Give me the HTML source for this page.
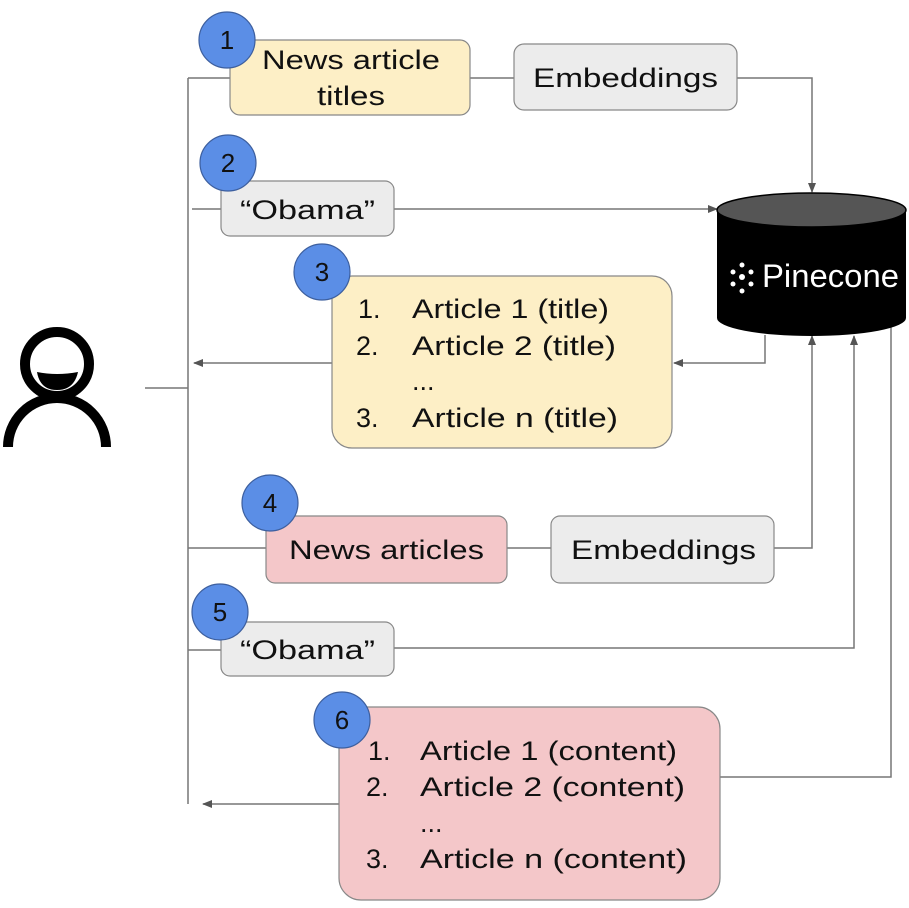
<!DOCTYPE html>
<html><head><meta charset="utf-8"><style>
html,body{margin:0;padding:0;background:#fff;}
svg{display:block;}
text{font-family:"Liberation Sans",sans-serif;fill:#111;}
</style></head><body>
<svg width="909" height="908" viewBox="0 0 909 908" xmlns="http://www.w3.org/2000/svg">
<defs>
<marker id="a" markerWidth="10" markerHeight="10" refX="9" refY="5" orient="auto" markerUnits="userSpaceOnUse">
<path d="M0,1 L10,5 L0,9 z" fill="#555"/></marker>
</defs>
<g stroke="#777" stroke-width="1.5" fill="none">
<line x1="188" y1="78" x2="188" y2="804"/>
<line x1="188" y1="78" x2="230" y2="78"/>
<line x1="145" y1="388" x2="188" y2="388"/>
<line x1="470" y1="78" x2="514" y2="78"/>
<polyline points="737,78 812,78 812,192" marker-end="url(#a)"/>
<line x1="192" y1="209" x2="221" y2="209"/>
<line x1="394" y1="209" x2="717" y2="209" marker-end="url(#a)"/>
<polyline points="765,335 765,363 674,363" marker-end="url(#a)"/>
<line x1="332" y1="363" x2="194" y2="363" marker-end="url(#a)"/>
<line x1="188" y1="548" x2="266" y2="548"/>
<line x1="507" y1="548" x2="551" y2="548"/>
<polyline points="774,548 812,548 812,336" marker-end="url(#a)"/>
<line x1="188" y1="650" x2="221" y2="650"/>
<polyline points="394,648 854,648 854,336" marker-end="url(#a)"/>
<polyline points="720,777 891,777 891,322"/>
<line x1="339" y1="804" x2="203" y2="804" marker-end="url(#a)"/>
</g>
<g stroke="#000" stroke-width="10" fill="none">
<circle cx="57" cy="364" r="32"/>
<path d="M8,447 A49,49 0 0 1 106,447"/>
</g>
<path d="M37,372 Q57,376 78,372 Q74,390 57,390 Q40,390 37,372 z" fill="#000"/>
<path d="M717,210 L717,318 A94.5,18 0 0 0 906,318 L906,210 z" fill="#000"/>
<ellipse cx="811.5" cy="210" rx="94.5" ry="17" fill="#555" stroke="#000" stroke-width="1.5"/>
<text x="762" y="287" font-size="32" textLength="137" lengthAdjust="spacingAndGlyphs" style="fill:#fff">Pinecone</text>
<g fill="#fff"><circle cx="742" cy="265" r="2.5"/><circle cx="733" cy="272" r="2.5"/><circle cx="751" cy="272" r="2.5"/><circle cx="733" cy="284" r="2.5"/><circle cx="751" cy="284" r="2.5"/><circle cx="742" cy="291" r="2.5"/><circle cx="742" cy="277" r="3"/></g>
<g stroke="#888" stroke-width="1.2">
<rect x="230" y="40" width="240" height="75" rx="10" fill="#fdefc6"/>
<rect x="514" y="44" width="223" height="66" rx="10" fill="#ececec"/>
<rect x="221" y="181" width="173" height="55" rx="9" fill="#ececec"/>
<rect x="332" y="276" width="340" height="172" rx="20" fill="#fdefc6"/>
<rect x="266" y="516" width="241" height="67" rx="9" fill="#f4c7c9"/>
<rect x="551" y="516" width="223" height="67" rx="9" fill="#ececec"/>
<rect x="221" y="622" width="173" height="54" rx="9" fill="#ececec"/>
<rect x="339" y="707" width="381" height="193" rx="22" fill="#f4c7c9"/>
</g>
<g font-size="27" lengthAdjust="spacingAndGlyphs">
<text x="262" y="69" textLength="178" lengthAdjust="spacingAndGlyphs">News article</text>
<text x="317" y="105" textLength="68" lengthAdjust="spacingAndGlyphs">titles</text>
<text x="533" y="87" textLength="185" lengthAdjust="spacingAndGlyphs">Embeddings</text>
<text x="240" y="219" textLength="135" lengthAdjust="spacingAndGlyphs">“Obama”</text>
<text x="358" y="318">1.</text><text x="412" y="318" textLength="197" lengthAdjust="spacingAndGlyphs">Article 1 (title)</text>
<text x="356" y="355">2.</text><text x="412" y="355" textLength="204" lengthAdjust="spacingAndGlyphs">Article 2 (title)</text>
<text x="412" y="390">...</text>
<text x="356" y="427">3.</text><text x="412" y="427" textLength="206" lengthAdjust="spacingAndGlyphs">Article n (title)</text>
<text x="289" y="559" textLength="195" lengthAdjust="spacingAndGlyphs">News articles</text>
<text x="571" y="559" textLength="185" lengthAdjust="spacingAndGlyphs">Embeddings</text>
<text x="240" y="659" textLength="135" lengthAdjust="spacingAndGlyphs">“Obama”</text>
<text x="368" y="760">1.</text><text x="420" y="760" textLength="257" lengthAdjust="spacingAndGlyphs">Article 1 (content)</text>
<text x="366" y="796">2.</text><text x="420" y="796" textLength="265" lengthAdjust="spacingAndGlyphs">Article 2 (content)</text>
<text x="420" y="832">...</text>
<text x="366" y="868">3.</text><text x="420" y="868" textLength="267" lengthAdjust="spacingAndGlyphs">Article n (content)</text>
</g>
<g fill="#5b8ee6" stroke="#3d5f9e" stroke-width="1.2">
<circle cx="227" cy="40" r="28"/><circle cx="228" cy="163" r="28"/><circle cx="322" cy="272" r="28"/>
<circle cx="270" cy="503" r="28"/><circle cx="220" cy="612" r="28"/><circle cx="342" cy="720" r="28"/>
</g>
<g font-size="26" text-anchor="middle">
<text x="227" y="49">1</text><text x="228" y="172">2</text><text x="322" y="281">3</text>
<text x="270" y="512">4</text><text x="220" y="621">5</text><text x="342" y="729">6</text>
</g>
</svg>
</body></html>
